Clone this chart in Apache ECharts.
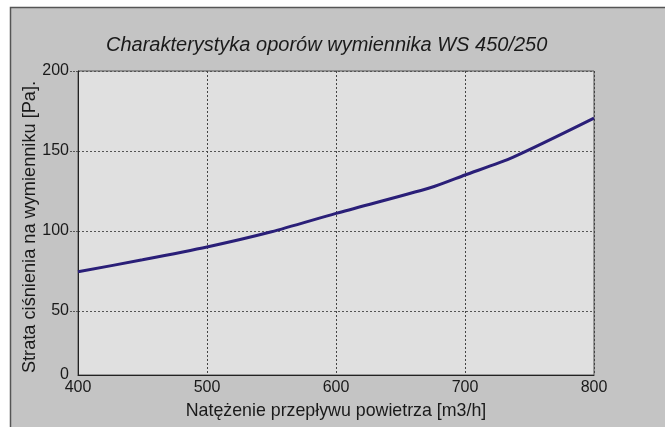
<!DOCTYPE html>
<html>
<head>
<meta charset="utf-8">
<script src="https://cdn.jsdelivr.net/npm/echarts@6/dist/echarts.min.js"></script>
<style>html,body{margin:0;padding:0;background:#fff}#c{width:665px;height:427px}</style>
</head>
<body>
<div id="c"></div>
<script>
const flow = [400, 450, 500, 550, 600, 673, 700, 737, 800];
const pressure = [74.5, 82, 90, 99.5, 111, 127, 135, 146, 170.5];
const yTicks = [10, 50, 100, 150, 200];
const yTickText = ['0', '50', '100', '150', '200'];
const xTicks = [400, 500, 600, 700, 800];

const chart = echarts.init(document.getElementById('c'), null, {renderer: 'canvas'});
const font = '"Liberation Sans", Arial, sans-serif';
chart.setOption({
  backgroundColor: '#ffffff',
  animation: false,
  graphic: [{
    type: 'rect', z: -10, silent: true,
    shape: {x: 10.5, y: 7.5, width: 670, height: 430},
    style: {fill: '#c4c4c4', stroke: '#555', lineWidth: 1.5}
  }],
  title: {
    text: 'Charakterystyka oporów wymiennika WS 450/250',
    left: 101, top: 30,
    textStyle: {fontFamily: font, fontStyle: 'italic', fontWeight: 'normal', fontSize: 20, color: '#1a1a1a'}
  },
  grid: {
    left: 78, right: 71, top: 71, bottom: 52,
    show: true, backgroundColor: '#e0e0e0', borderColor: '#555', borderWidth: 1
  },
  xAxis: {
    type: 'value', min: 400, max: 800, interval: 100,
    name: 'Natężenie przepływu powietrza [m3/h]',
    nameLocation: 'middle', nameGap: 27,
    nameTextStyle: {fontFamily: font, fontSize: 17.8, color: '#1a1a1a'},
    axisLine: {show: true, lineStyle: {color: '#222', width: 1}},
    axisTick: {show: false},
    axisLabel: {fontFamily: font, fontSize: 16, color: '#1a1a1a', margin: 5},
    splitLine: {show: true, lineStyle: {color: '#444', type: [2, 2], width: 1}}
  },
  yAxis: {
    type: 'value', min: 10, max: 200,
    name: 'Strata ciśnienia na wymienniku [Pa].',
    nameLocation: 'middle', nameGap: 39,
    nameMoveOverlap: false,
    nameTextStyle: {fontFamily: font, fontSize: 18.2, color: '#1a1a1a', padding: [0, 8, 0, 0]},
    axisLine: {show: true, lineStyle: {color: '#222', width: 1}},
    axisTick: {show: true, length: 8, customValues: [50, 100, 150, 200], lineStyle: {color: '#555', type: [2, 1]}},
    axisLabel: {
      fontFamily: font, fontSize: 16, color: '#1a1a1a', margin: 9,
      customValues: yTicks,
      formatter: function (v) { const i = yTicks.indexOf(v); return i >= 0 ? yTickText[i] : ''; }
    },
    splitLine: {show: true, lineStyle: {color: '#555', type: [2, 2], width: 1}}
  },
  series: [{
    type: 'line',
    data: flow.map((x, i) => [x, pressure[i]]),
    smooth: 0.25,
    symbol: 'none',
    lineStyle: {color: '#2a1f78', width: 3}
  }]
});
</script>
</body>
</html>
